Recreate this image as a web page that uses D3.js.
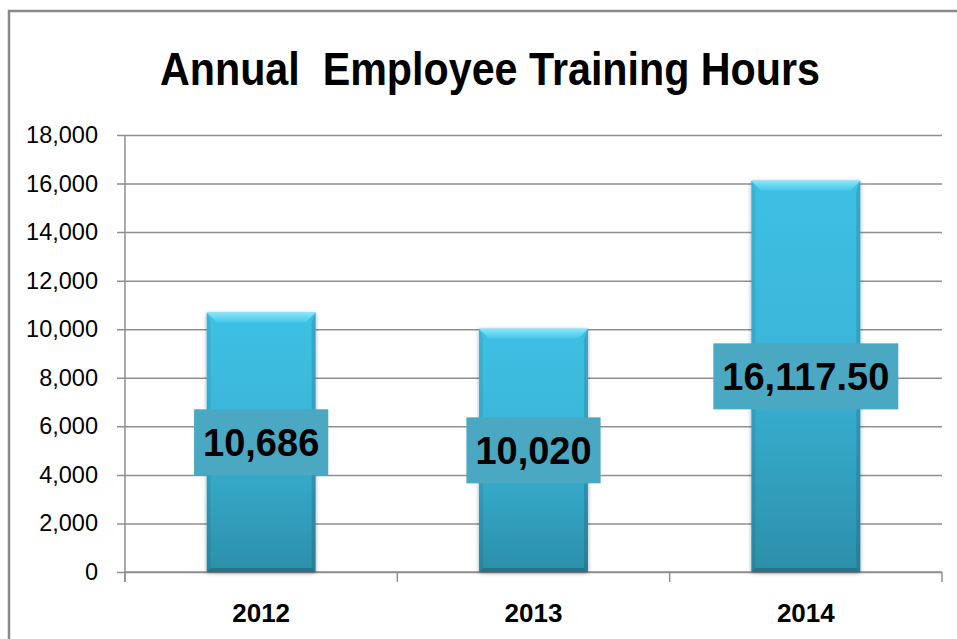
<!DOCTYPE html>
<html>
<head>
<meta charset="utf-8">
<script src="https://cdn.jsdelivr.net/npm/d3@7"></script>
<style>
  html, body { margin: 0; padding: 0; background: #ffffff; }
  svg { display: block; }
  text { font-family: "Liberation Sans", Arial, sans-serif; }
</style>
</head>
<body>
<svg id="chart" width="957" height="639"></svg>
<script>
// Annual employee training hours by year
const years = ["2012", "2013", "2014"];
const hours = [10686, 10020, 16117.5];
const labelDecimals = [0, 0, 2];
const yTicks = [0, 2000, 4000, 6000, 8000, 10000, 12000, 14000, 16000, 18000];
const chartTitle = "Annual  Employee Training Hours";

const svg = d3.select("#chart");
const W = 957, H = 639;
const plot = { left: 125, right: 942, top: 135, bottom: 572 };

const x = d3.scaleBand()
  .domain(years)
  .range([plot.left, plot.right])
  .paddingInner(0.6)
  .paddingOuter(0.3);

const xTickScale = d3.scaleBand().domain(years).range([plot.left, plot.right]).padding(0);

const y = d3.scaleLinear().domain([0, 18000]).range([plot.bottom, plot.top]);

// defs: bar gradient, bevel highlights, soft shadow
const defs = svg.append("defs");
const g1 = defs.append("linearGradient").attr("id", "barFill").attr("x1", 0).attr("y1", 0).attr("x2", 0).attr("y2", 1);
g1.append("stop").attr("offset", "0%").attr("stop-color", "#3ec0e4");
g1.append("stop").attr("offset", "45%").attr("stop-color", "#3ab5d9");
g1.append("stop").attr("offset", "100%").attr("stop-color", "#2c8fa9");

const g2 = defs.append("linearGradient").attr("id", "bevelTop").attr("x1", 0).attr("y1", 0).attr("x2", 0).attr("y2", 1);
g2.append("stop").attr("offset", "0%").attr("stop-color", "#86e8fb");
g2.append("stop").attr("offset", "100%").attr("stop-color", "#46c6e8");

const shadow = defs.append("filter").attr("id", "barShadow")
  .attr("x", "-10%").attr("y", "-5%").attr("width", "120%").attr("height", "110%");
shadow.append("feGaussianBlur").attr("in", "SourceAlpha").attr("stdDeviation", 2).attr("result", "blur");
shadow.append("feOffset").attr("in", "blur").attr("dx", 0).attr("dy", 1).attr("result", "off");
shadow.append("feComponentTransfer").attr("in", "off").attr("result", "soft")
  .append("feFuncA").attr("type", "linear").attr("slope", 0.35);
const merge = shadow.append("feMerge");
merge.append("feMergeNode").attr("in", "soft");
merge.append("feMergeNode").attr("in", "SourceGraphic");

// outer frame
svg.append("rect")
  .attr("x", 9).attr("y", 11).attr("width", W + 20).attr("height", H + 20)
  .attr("fill", "#ffffff").attr("stroke", "#8a8a8a").attr("stroke-width", 2.5);

// title
svg.append("text")
  .attr("x", 160).attr("y", 85)
  .attr("textLength", 660).attr("lengthAdjust", "spacingAndGlyphs")
  .style("white-space", "pre")
  .attr("font-size", 47).attr("font-weight", "bold").attr("fill", "#000")
  .text(chartTitle);

// gridlines + y axis labels
const yAxis = d3.axisLeft(y).tickValues(yTicks).tickSize(8).tickPadding(19)
  .tickFormat(d3.format(","));
const gy = svg.append("g").attr("transform", `translate(${plot.left},0)`).call(yAxis);
gy.select(".domain").attr("stroke", "#8f8f8f").attr("stroke-width", 1.5)
  .attr("d", `M0,${plot.top}V${plot.bottom + 10}`);
gy.selectAll(".tick line").attr("stroke", "#8f8f8f").attr("stroke-width", 1.5)
  .attr("x1", -8).attr("x2", plot.right - plot.left);
gy.selectAll(".tick text").attr("font-size", 23.5).attr("fill", "#000")
  .attr("font-family", "'Liberation Sans', Arial, sans-serif");

// x axis with category ticks at band boundaries
const gx = svg.append("g").attr("transform", `translate(0,${plot.bottom})`);
gx.append("line").attr("x1", plot.left).attr("x2", plot.right)
  .attr("stroke", "#8f8f8f").attr("stroke-width", 1.5);
const boundaries = years.map(d => xTickScale(d)).concat([xTickScale(years[years.length - 1]) + xTickScale.bandwidth()]);
gx.selectAll("line.tk").data(boundaries).join("line").attr("class", "tk")
  .attr("x1", d => d).attr("x2", d => d).attr("y1", 0).attr("y2", 10)
  .attr("stroke", "#8f8f8f").attr("stroke-width", 1.5);
gx.selectAll("text").data(years).join("text")
  .attr("x", d => xTickScale(d) + xTickScale.bandwidth() / 2)
  .attr("y", 50)
  .attr("text-anchor", "middle")
  .attr("font-size", 26).attr("font-weight", "bold").attr("fill", "#000")
  .text(d => d);

// bars
const bw = x.bandwidth();
const bars = svg.append("g").selectAll("g.bar").data(years.map((yr, i) => ({ yr, v: hours[i], dec: labelDecimals[i] })))
  .join("g").attr("class", "bar");

bars.append("rect")
  .attr("x", d => x(d.yr)).attr("y", d => y(d.v))
  .attr("width", bw).attr("height", d => y(0) - y(d.v))
  .attr("fill", "url(#barFill)")
  .attr("filter", "url(#barShadow)");

const bev = 10, side = 4;
// top bevel
bars.append("path")
  .attr("d", d => {
    const x0 = x(d.yr), x1 = x0 + bw, t = y(d.v);
    return `M${x0},${t}L${x1},${t}L${x1 - bev},${t + bev}L${x0 + bev},${t + bev}Z`;
  })
  .attr("fill", "url(#bevelTop)");
// side shading
bars.append("path")
  .attr("d", d => {
    const x0 = x(d.yr), t = y(d.v), b = y(0);
    return `M${x0},${t}L${x0 + side},${t + bev}L${x0 + side},${b - side}L${x0},${b}Z`;
  })
  .attr("fill", "#000").attr("fill-opacity", 0.07);
bars.append("path")
  .attr("d", d => {
    const x1 = x(d.yr) + bw, t = y(d.v), b = y(0);
    return `M${x1},${t}L${x1 - side},${t + bev}L${x1 - side},${b - side}L${x1},${b}Z`;
  })
  .attr("fill", "#000").attr("fill-opacity", 0.12);
// bottom bevel
bars.append("path")
  .attr("d", d => {
    const x0 = x(d.yr), x1 = x0 + bw, b = y(0);
    return `M${x0},${b}L${x1},${b}L${x1 - side},${b - side}L${x0 + side},${b - side}Z`;
  })
  .attr("fill", "#000").attr("fill-opacity", 0.18);

// value labels in boxes at the middle of each bar
bars.each(function (d) {
  const g = d3.select(this);
  const cx = x(d.yr) + bw / 2;
  const cy = y(d.v / 2);
  const label = d3.format(`,.${d.dec}f`)(d.v);
  const box = g.append("rect").attr("fill", "#4aa8c3");
  const t = g.append("text")
    .attr("x", cx).attr("y", cy + 14)
    .attr("text-anchor", "middle")
    .attr("font-size", 38).attr("font-weight", "bold").attr("fill", "#000")
    .text(label);
  const tw = t.node().getComputedTextLength();
  box.attr("x", cx - tw / 2 - 9).attr("y", cy - 33)
    .attr("width", tw + 18).attr("height", 66);
});
</script>
</body>
</html>
